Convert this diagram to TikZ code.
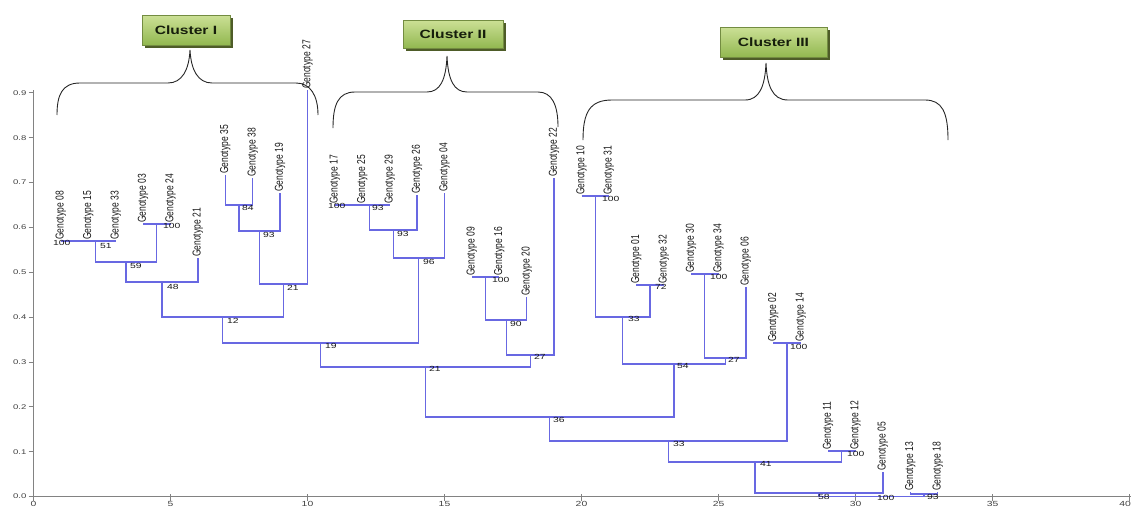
\documentclass[tikz,border=0pt]{standalone}
\usepackage{fontspec}
\setmainfont{Liberation Sans}
\usetikzlibrary{calc,shadows}
\definecolor{treeblue}{RGB}{104,104,226}
\definecolor{axisgray}{RGB}{130,130,130}
\definecolor{boxtop}{RGB}{204,224,150}
\definecolor{boxbot}{RGB}{146,184,80}
\definecolor{boxedge}{RGB}{115,140,65}
\definecolor{boxshadow}{RGB}{78,92,40}
\definecolor{clustertext}{RGB}{22,30,12}
\newcommand{\wx}[1]{\scalebox{1.4}[1]{#1}}
\newcommand{\wy}[1]{\scalebox{1}[1.35]{#1}}
\begin{document}
\begin{tikzpicture}[x=1pt,y=-1pt,
  tree/.style={treeblue, line width=1.25pt},
  leaf/.style={rotate=90, anchor=west, inner sep=1pt, font=\fontsize{8.5}{9}\selectfont, text=black!90},
  bs/.style={anchor=west, inner sep=0pt, font=\fontsize{7.4}{8}\selectfont, text=black!90},
  axis/.style={axisgray, line width=1.3pt},
  tick/.style={axisgray, line width=0.8pt},
  ticklab/.style={inner sep=0pt, font=\fontsize{6.8}{7}\selectfont, text=black!75},
  brace/.style={black!85, line width=0.9pt},
  clusterbox/.style={draw=boxedge, line width=0.5pt, top color=boxtop, bottom color=boxbot,
     drop shadow={shadow xshift=2.5pt, shadow yshift=-2.5pt, fill=boxshadow, opacity=1},
     inner sep=0pt, font=\fontsize{12}{14}\selectfont\bfseries, text=clustertext}
]
\useasboundingbox (0,0) rectangle (1131,509);

% axes
\draw[axis] (33.5,90) -- (33.5,496.5) -- (1131,496.5);
\foreach \v/\lab in {0/0.0,1/0.1,2/0.2,3/0.3,4/0.4,5/0.5,6/0.6,7/0.7,8/0.8,9/0.9}{
  \draw[tick] (28.5,496.5-44.85*\v) -- (33.5,496.5-44.85*\v);
  \node[ticklab, anchor=east] at (26.5,496.5-44.85*\v) {\wx{\lab}};
}
\foreach \v in {0,5,10,15,20,25,30,35}{
  \draw[tick] (33.5+27.4*\v,494) -- (33.5+27.4*\v,500.5);
  \node[ticklab, anchor=north, font=\fontsize{7.4}{8}\selectfont] at (33.5+27.4*\v,501.5) {\wx{\v}};
}
\draw[tick] (1129.5,494) -- (1129.5,500.5);
\node[ticklab, anchor=north east, font=\fontsize{7.4}{8}\selectfont] (x40) at (1131,501.5) {\wx{40}};

% braces
\draw[brace] (57,115) .. controls (57,95) and (62,83) .. (80,83) -- (168,83)
  .. controls (182,83) and (189,70) .. (190,50)
  .. controls (191,70) and (198,83) .. (212,83) -- (296,83)
  .. controls (310,83) and (318,95) .. (318,115);
\draw[brace] (333,128) .. controls (333,105) and (338,92) .. (355,92) -- (427,92)
  .. controls (440,92) and (446,80) .. (447,56)
  .. controls (448,80) and (454,92) .. (467,92) -- (538,92)
  .. controls (552,92) and (558,105) .. (558,127);
\draw[brace] (583,140) .. controls (583,112) and (590,100) .. (612,100) -- (745,100)
  .. controls (760,100) and (765,85) .. (766,63)
  .. controls (767,85) and (772,100) .. (788,100) -- (925,100)
  .. controls (942,100) and (948,112) .. (948,140);

% cluster boxes
\node[clusterbox, minimum width=88pt, minimum height=30pt] (C1) at (186,30) {\scalebox{1.3}[1]{Cluster I}};
\node[clusterbox, minimum width=100pt, minimum height=28pt] (C2) at (453,34) {\scalebox{1.3}[1]{Cluster II}};
\node[clusterbox, minimum width=107pt, minimum height=30pt] (C3) at (773.5,42) {\scalebox{1.3}[1]{Cluster III}};

\begin{scope}[shift={(33.5,0)}, x=27.4pt]
% leaves
\foreach \xa/\na/\ya in {1/08/241,2/15/241,3/33/241,4/03/224,5/24/224,6/21/258,7/35/175,8/38/178,
  9/19/193,10/27/90,11/17/205,12/25/205,13/29/205,14/26/195,15/04/193,16/09/277,17/16/277,
  18/20/297,19/22/178,20/10/196,21/31/196,22/01/285,23/32/285,24/30/274,25/34/274,26/06/287,
  27/02/343,28/14/343,29/11/451,30/12/451,31/05/472,32/13/492,33/18/492}{
  \coordinate (g\na) at (\xa,\ya);
  \node[leaf] (L\na) at (g\na) {\wy{Genotype \na}};
}
% internal nodes
\coordinate (n1) at (1.5,241);
\coordinate (n51) at (2.25,241);
\coordinate (n2) at (4.5,224);
\coordinate (n59) at (3.375,262);
\coordinate (n48) at (4.6875,282);
\coordinate (n84) at (7.5,205);
\coordinate (n93a) at (8.25,231);
\coordinate (n21a) at (9.125,284);
\coordinate (n12) at (6.906,317);
\coordinate (n3) at (11.5,205);
\coordinate (n93b) at (12.25,205);
\coordinate (n93c) at (13.125,230);
\coordinate (n96) at (14.0625,258);
\coordinate (n19) at (10.484,343);
\coordinate (n4) at (16.5,277);
\coordinate (n90) at (17.25,320);
\coordinate (n27a) at (18.125,355);
\coordinate (n21b) at (14.305,367);
\coordinate (n5) at (20.5,196);
\coordinate (n72) at (22.5,285);
\coordinate (n33a) at (21.5,317);
\coordinate (n6) at (24.5,274);
\coordinate (n27b) at (25.25,358);
\coordinate (n54) at (23.375,364);
\coordinate (n36) at (18.84,417);
\coordinate (n7) at (27.5,343);
\coordinate (n33b) at (23.17,441);
\coordinate (n8) at (29.5,451);
\coordinate (n41) at (26.335,462);
\coordinate (n58) at (28.67,493);
\coordinate (n9) at (32.5,494);
\coordinate (root) at (30.58,496.5);
% edges
\draw[tree] (g08) |- (n1) -| (g15);
\draw[tree] (n1) |- (n51) -| (g33);
\draw[tree] (g03) |- (n2) -| (g24);
\draw[tree] (n51) |- (n59) -| (n2);
\draw[tree] (n59) |- (n48) -| (g21);
\draw[tree] (g35) |- (n84) -| (g38);
\draw[tree] (n84) |- (n93a) -| (g19);
\draw[tree] (n93a) |- (n21a) -| (g27);
\draw[tree] (n48) |- (n12) -| (n21a);
\draw[tree] (g17) |- (n3) -| (g25);
\draw[tree] (n3) |- (n93b) -| (g29);
\draw[tree] (n93b) |- (n93c) -| (g26);
\draw[tree] (n93c) |- (n96) -| (g04);
\draw[tree] (n12) |- (n19) -| (n96);
\draw[tree] (g09) |- (n4) -| (g16);
\draw[tree] (n4) |- (n90) -| (g20);
\draw[tree] (n90) |- (n27a) -| (g22);
\draw[tree] (n19) |- (n21b) -| (n27a);
\draw[tree] (g10) |- (n5) -| (g31);
\draw[tree] (g01) |- (n72) -| (g32);
\draw[tree] (n5) |- (n33a) -| (n72);
\draw[tree] (g30) |- (n6) -| (g34);
\draw[tree] (n6) |- (n27b) -| (g06);
\draw[tree] (n33a) |- (n54) -| (n27b);
\draw[tree] (n21b) |- (n36) -| (n54);
\draw[tree] (g02) |- (n7) -| (g14);
\draw[tree] (n36) |- (n33b) -| (n7);
\draw[tree] (g11) |- (n8) -| (g12);
\draw[tree] (n33b) |- (n41) -| (n8);
\draw[tree] (n41) |- (n58) -| (g05);
\draw[tree] (g13) |- (n9) -| (g18);
\draw[tree] (n58) |- (root) -| (n9);
\end{scope}

% bootstrap values
\foreach \bx/\by/\bt [count=\i] in {53/243/100,100/246/51,163/226/100,130/266/59,167/287/48,242/208/84,
  263/235/93,287/288/21,227/321/12,325/346/19,328/206/100,372/208/93,397/234/93,423/262/96,
  492/280/100,510/324/90,534/357/27,429/369/21,602/199/100,655/287/72,628/319/33,710/277/100,
  728/360/27,677/366/54,553/420/36,790/347/100,673/444/33,847/454/100,760/464/41,818/497/58,
  877/498/100,927/497/93}{
  \node[bs] (b\i) at (\bx,\by) {\wx{\bt}};
}
\end{tikzpicture}
\end{document}
